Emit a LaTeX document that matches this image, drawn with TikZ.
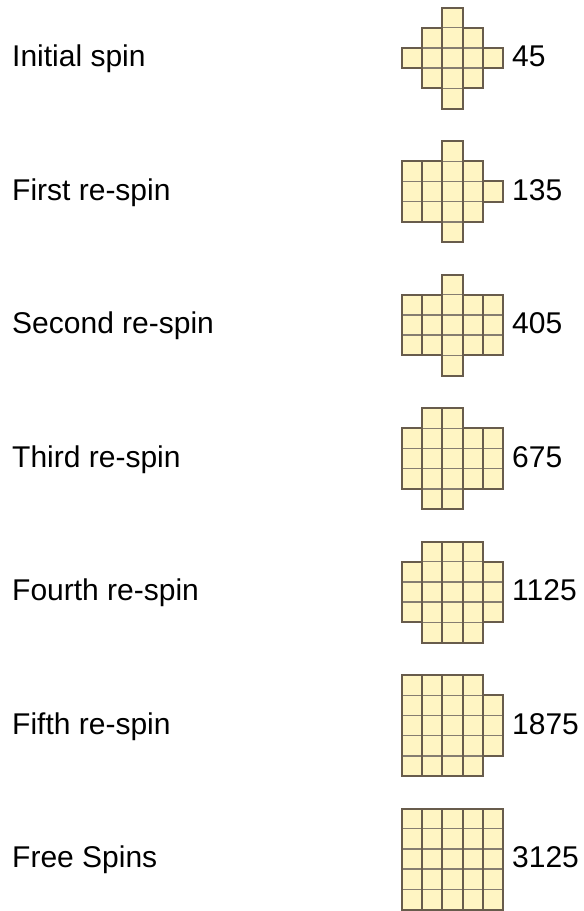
\documentclass[tikz,border=0pt]{standalone}
\usepackage{fontspec}
\setmainfont{Liberation Sans}
\usepackage{xcolor}
\usepackage{tikz}

\definecolor{reelfill}{RGB}{255,245,195}
\definecolor{reelline}{RGB}{104,92,76}

\begin{document}
\begin{tikzpicture}[x=1pt,y=-1pt,
  cellbox/.style={fill=reelfill, draw=reelline!80, line width=1.4pt},
  reelbox/.style={draw=reelline, line width=2pt, line join=miter},
  caption/.style={anchor=base west, inner sep=0pt, font=\fontsize{30}{35}\selectfont}]
  \useasboundingbox (0,0) rectangle (584,911);
  % one row per spin stage: label, reel heights, ways
  \foreach \lbl/\ha/\hb/\hc/\hd/\he/\num [count=\row from 0] in {
      Initial spin/1/3/5/3/1/45,
      First re-spin/3/3/5/3/1/135,
      Second re-spin/3/3/5/3/3/405,
      Third re-spin/3/5/5/3/3/675,
      Fourth re-spin/3/5/5/5/3/1125,
      Fifth re-spin/5/5/5/5/3/1875,
      Free Spins/5/5/5/5/5/3125} {
    \pgfmathsetmacro{\yc}{58+133.5*\row}
    \node[caption] (label-\row) at (12,\yc+8.5) {\lbl};
    % cells first, reel outlines on top
    \foreach \h [count=\col from 0] in {\ha,\hb,\hc,\hd,\he} {
      \pgfmathsetmacro{\xl}{402+20.2*\col}
      \pgfmathsetmacro{\yt}{\yc-10.1*\h}
      \foreach \k in {1,...,\h}
        \draw[cellbox] (\xl,\yt+20.2*\k-20.2) rectangle +(20.2,20.2);
    }
    \foreach \h [count=\col from 0] in {\ha,\hb,\hc,\hd,\he} {
      \pgfmathsetmacro{\xl}{402+20.2*\col}
      \pgfmathsetmacro{\yt}{\yc-10.1*\h}
      \draw[reelbox] (\xl,\yt) rectangle +(20.2,20.2*\h);
    }
    \node[caption] (num-\row) at (512,\yc+8.5) {\num};
  }
\end{tikzpicture}
\end{document}
